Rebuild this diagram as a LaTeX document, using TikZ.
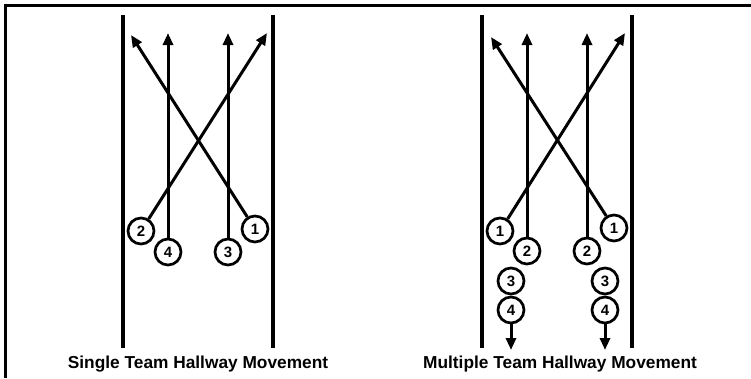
\documentclass[tikz,border=0pt]{standalone}
\usepackage{fontspec}
\setmainfont{Liberation Sans}
\usetikzlibrary{arrows.meta,positioning}

\tikzset{
    mover/.style = {circle, draw, line width=2.7pt, minimum size=26pt, inner sep=0pt, font=\bfseries\fontsize{15}{15}\selectfont},
    wall/.style = {line width=3.4pt},
    route/.style = {line width=3pt, -{Triangle[length=12pt,width=10pt]}},
    caption/.style = {font=\bfseries\fontsize{17.3}{17.3}\selectfont}
}

\begin{document}
\begin{tikzpicture}[x=1pt, y=-1pt]
    \useasboundingbox (0,0) rectangle (751,378);
    % frame
    \draw[line width=3pt] (751,5) -- (5,5) -- (5,378);

    % single team
    \draw[wall] (123,15) -- (123,348);
    \draw[wall] (273,15) -- (273,348);
    \node(s2) [mover] at (141,231) {2};
    \node(s4) [mover] at (168,252) {4};
    \node(s3) [mover] at (228,252) {3};
    \node(s1) [mover] at (255,229) {1};
    \coordinate (s1end) at (131,35);
    \coordinate (s2end) at (267,33);
    \coordinate (s3end) at (228,33);
    \coordinate (s4end) at (168,33);
    \draw[route] (s1) -- (s1end);
    \draw[route] (s2) -- (s2end);
    \draw[route] (s3) -- (s3end);
    \draw[route] (s4) -- (s4end);
    \node(stitle) [caption] at (198,364) {Single Team Hallway Movement};

    % multiple teams
    \draw[wall] (482,15) -- (482,348);
    \draw[wall] (632,15) -- (632,348);
    \node(a1) [mover] at (500,231) {1};
    \node(a2) [mover] at (527,251) {2};
    \node(a3) [mover] at (511,281) {3};
    \node(a4) [mover] at (511,310) {4};
    \node(b1) [mover] at (614,228) {1};
    \node(b2) [mover] at (587,251) {2};
    \node(b3) [mover] at (605,281) {3};
    \node(b4) [mover] at (605,310) {4};
    \coordinate (a1end) at (625,33);
    \coordinate (a2end) at (527,33);
    \coordinate (a4end) at (511,350);
    \coordinate (b1end) at (491,37);
    \coordinate (b2end) at (587,33);
    \coordinate (b4end) at (605,350);
    \draw[route] (a1) -- (a1end);
    \draw[route] (a2) -- (a2end);
    \draw[route] (a4) -- (a4end);
    \draw[route] (b1) -- (b1end);
    \draw[route] (b2) -- (b2end);
    \draw[route] (b4) -- (b4end);
    \node(mtitle) [caption] at (560,364) {Multiple Team Hallway Movement};
\end{tikzpicture}
\end{document}
